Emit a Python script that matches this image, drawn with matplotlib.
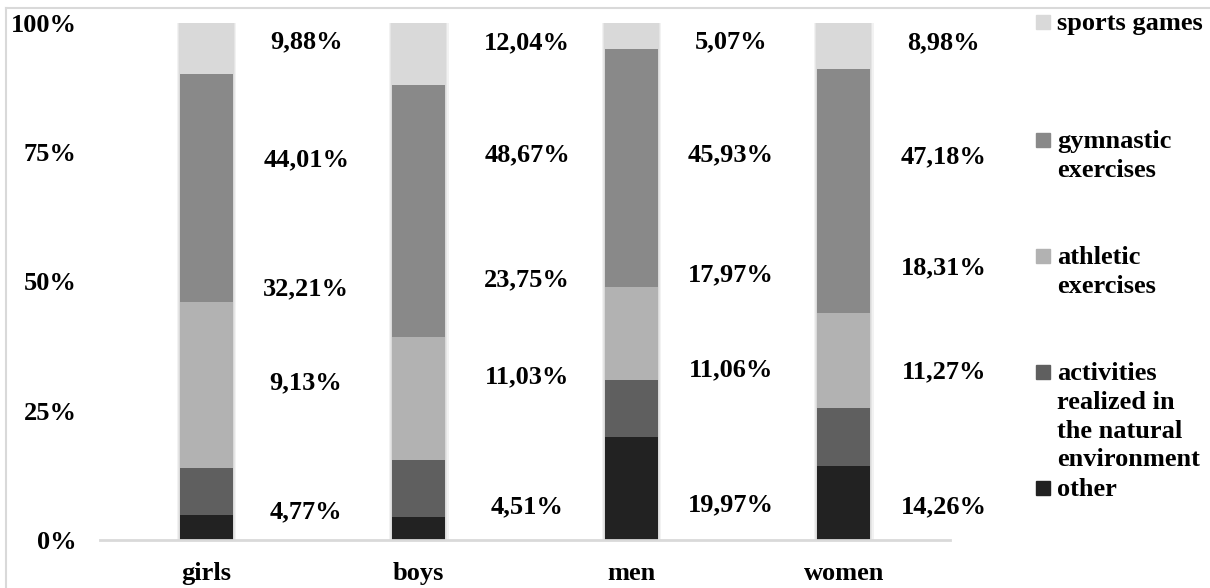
import numpy as np
import matplotlib
matplotlib.use('Agg')
import matplotlib.pyplot as plt
from matplotlib.lines import Line2D
from matplotlib.patches import Rectangle

plt.rcParams['font.family'] = ['Liberation Serif', 'DejaVu Serif']
plt.rcParams['font.weight'] = 'bold'

# ====================================
# DATA
# ====================================
groups = ['girls', 'boys', 'men', 'women']
series = ['other', 'activities\nrealized in\nthe natural\nenvironment',
          'athletic\nexercises', 'gymnastic\nexercises', 'sports games']

other = [4.77, 4.51, 19.97, 14.26]
activities = [9.13, 11.03, 11.06, 11.27]
athletic = [32.21, 23.75, 17.97, 18.31]
gymnastic = [44.01, 48.67, 45.93, 47.18]
sports = [9.88, 12.04, 5.07, 8.98]

values = [other, activities, athletic, gymnastic, sports]
colors = ['#222222', '#5f5f5f', '#b2b2b2', '#898989', '#d9d9d9']

# label heights as placed in the original (data units), one row per series
label_y = [[5.4, 6.4, 6.8, 6.4],
           [30.4, 31.5, 32.9, 32.5],
           [48.5, 50.3, 51.3, 52.6],
           [73.5, 74.5, 74.5, 74.1],
           [96.3, 96.1, 96.3, 96.1]]
label_dx = [0.47, 0.51, 0.47, 0.47]

FS = 19

# ====================================
# PLOT
# ====================================
fig = plt.figure(figsize=(12.1, 5.88), dpi=100)
ax = fig.add_axes([100 / 1210, 1 - 540 / 588, 850 / 1210, 517 / 588])

x = np.arange(len(groups))
width = 0.25

# soft shadow behind the bars
for k in range(3):
    ax.bar(x, 100.4, width + 0.01 * (k + 1), color='#000000', alpha=0.05, zorder=1)

bottom = np.zeros(len(groups))
for vals, col in zip(values, colors):
    ax.bar(x, vals, width, bottom=bottom, color=col, zorder=2)
    bottom += np.array(vals)

for ss in range(len(values)):
    for ii in range(len(groups)):
        txt = f"{values[ss][ii]:.2f}%".replace('.', ',')
        ax.text(x[ii] + label_dx[ii], label_y[ss][ii], txt, ha='center', va='center',
                fontsize=FS, fontweight='bold')

ax.set_xlim(-0.5, 3.5)
ax.set_ylim(0, 100)
ax.set_yticks([0, 25, 50, 75, 100])
ax.set_yticklabels(['0%', '25%', '50%', '75%', '100%'])
ax.set_xticks(x)
ax.set_xticklabels(groups)
ax.tick_params(axis='y', length=0, pad=17, labelsize=FS)
ax.tick_params(axis='x', length=0, pad=16, labelsize=FS)
for lab in ax.get_xticklabels() + ax.get_yticklabels():
    lab.set_fontweight('bold')

for side in ['top', 'right', 'left']:
    ax.spines[side].set_visible(False)
ax.spines['bottom'].set_color('#d9d9d9')
ax.spines['bottom'].set_linewidth(2)
ax.spines['bottom'].set_zorder(3)

# legend drawn by hand (top to bottom)
leg_y = [22, 140, 256, 372, 488]
for ss, yy in zip(range(len(series) - 1, -1, -1), leg_y):
    fy = 1 - yy / 588
    fig.patches.append(Rectangle((1036 / 1210, fy - 7 / 588), 14 / 1210, 14 / 588,
                                 transform=fig.transFigure, color=colors[ss]))
    fig.text(1057 / 1210, fy + 10 / 588, series[ss], ha='left', va='top',
             fontsize=FS, fontweight='bold', linespacing=1.32)

# outer frame
fig.lines.append(Line2D([6 / 1210, 1], [1 - 8 / 588, 1 - 8 / 588],
                        transform=fig.transFigure, color='#d9d9d9', lw=1.5))
fig.lines.append(Line2D([6 / 1210, 6 / 1210], [0, 1 - 8 / 588],
                        transform=fig.transFigure, color='#d9d9d9', lw=1.5))

plt.savefig('out.png', dpi=100)
